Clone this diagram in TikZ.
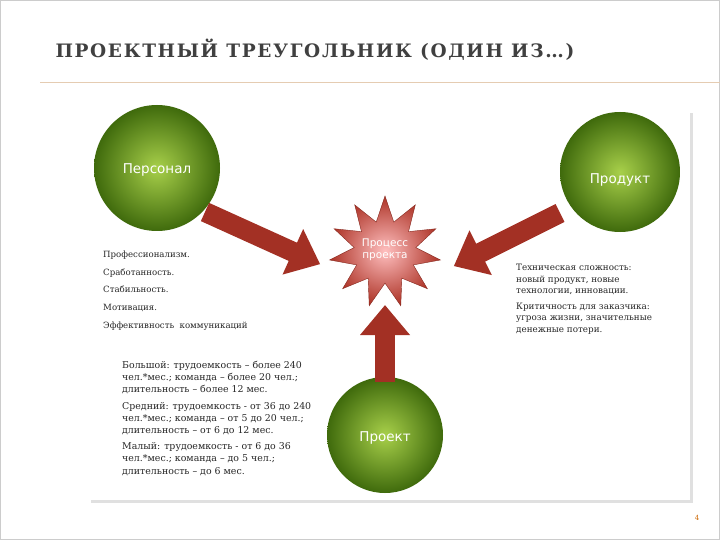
\documentclass[tikz,border=0pt]{standalone}
\usepackage{fontspec}
\setmainfont{DejaVu Serif}
\newfontfamily\sansf{DejaVu Sans}
\newfontfamily\titlef[LetterSpace=9]{DejaVu Serif}
\usetikzlibrary{shapes.geometric,arrows.meta,shadows}
\definecolor{grnl}{HTML}{A8D04A}
\definecolor{grnd}{HTML}{3F6A0C}
\definecolor{arr}{HTML}{C0392B}
\tikzset{
 ball/.style={circle,minimum size=#1,inner color=grnl,outer color=grnd},
 blab/.style={text=white,font=\sansf\fontsize{13.5}{15}\selectfont},
 bigarrow/.style={line width=20pt,arr!85!black,-{Triangle[width=48pt,length=30pt]},shorten >=2pt},
 txt/.style={anchor=north west,align=left,font=\fontsize{9.4}{12.2}\selectfont,text=black!85,inner sep=0pt}
}
\begin{document}
\begin{tikzpicture}[x=1pt,y=-1pt]
\useasboundingbox (0,0) rectangle (720,540);
\fill[white] (0,0) rectangle (720,540);
\draw[black!20] (0.5,0.5) rectangle (719.5,539.5);
\node[anchor=west,font=\titlef\bfseries\fontsize{18.5}{20}\selectfont,text=black!75] (title) at (52,50) {ПРОЕКТНЫЙ ТРЕУГОЛЬНИК (ОДИН ИЗ…)};
\draw[brown!40,line width=0.8pt] (40,82) -- (720,82);
\fill[black!12] (91,113) rectangle (693,503);
\fill[white] (88,110) rectangle (690,500);
\node[ball=126pt] (pers) at (157,168) {};
\node[blab] (persl) at (157,170) {Персонал};
\node[ball=120pt] (prod) at (620,172) {};
\node[blab] (prodl) at (620,180) {Продукт};
\node[ball=116pt] (proj) at (385,435) {};
\node[blab] (projl) at (385,438) {Проект};
\coordinate (a1) at (205,212);
\coordinate (a1e) at (322,265);
\coordinate (a2) at (560,213);
\coordinate (a2e) at (452,267);
\coordinate (a3) at (385,382);
\coordinate (a3e) at (385,303);
\draw[bigarrow] (a1) -- (a1e);
\draw[bigarrow] (a2) -- (a2e);
\draw[bigarrow] (a3) -- (a3e);
\node[star,star points=11,star point ratio=1.8,minimum size=112pt,inner color=red!25,outer color=arr!90!black,draw=arr!70!black,thin] (star) at (385,252) {};
\node[text=white,align=center,font=\sansf\fontsize{10.5}{12}\selectfont] (starl) at (385,250) {Процесс\\проекта};
\node[txt,font=\fontsize{8.6}{17.6}\selectfont] (left) at (103,251) {Профессионализм.\\Сработанность.\\Стабильность.\\Мотивация.\\Эффективность\ \ коммуникаций};
\node[txt] (low) at (122,361) {Большой: трудоемкость -- более 240\\чел.*мес.; команда -- более 20 чел.;\\длительность -- более 12 мес.\\[4pt]
Средний: трудоемкость - от 36 до 240\\чел.*мес.; команда -- от 5 до 20 чел.;\\длительность -- от 6 до 12 мес.\\[4pt]
Малый: трудоемкость - от 6 до 36\\чел.*мес.; команда -- до 5 чел.;\\длительность -- до 6 мес.};
\node[txt,font=\fontsize{8.8}{11.5}\selectfont] (right) at (516,264) {Техническая сложность:\\новый продукт, новые\\технологии, инновации.\\[4pt]
Критичность для заказчика:\\угроза жизни, значительные\\денежные потери.};
\node[text=orange!80!black,font=\fontsize{7}{8}\selectfont] (pg) at (697,518) {4};
\end{tikzpicture}
\end{document}
